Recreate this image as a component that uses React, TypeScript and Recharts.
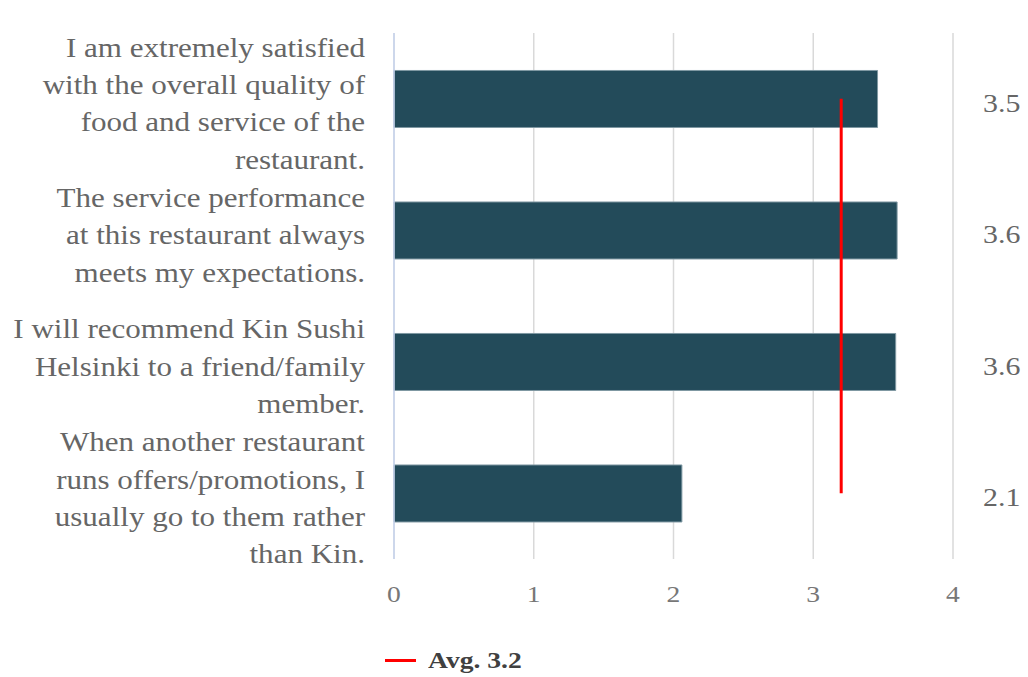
import { Bar, CartesianGrid, ComposedChart, Legend, Line, XAxis, YAxis } from 'recharts';

// Survey statements (pre-wrapped the way the source chart breaks them)
const statementLines: string[][] = [
  ['I am extremely satisfied', 'with the overall quality of', 'food and service of the', 'restaurant.'],
  ['The service performance', 'at this restaurant always', 'meets my expectations.'],
  ['I will recommend Kin Sushi', 'Helsinki to a friend/family', 'member.'],
  ['When another restaurant', 'runs offers/promotions, I', 'usually go to them rather', 'than Kin.'],
];
const statements = statementLines.map((l) => l.join(' '));
const scores = [3.46, 3.6, 3.59, 2.06];
const scoreLabels = ['3.5', '3.6', '3.6', '2.1'];
const average = 3.2;
const xTicks = [0, 1, 2, 3, 4];

const data = statements.map((s, i) => ({
  statement: s,
  score: scores[i],
  label: scoreLabels[i],
  avg: average,
}));

const FONT = '"Liberation Serif", "Times New Roman", serif';
const TEXT = '#666666';
const LINE_H = 37.5;
const STRETCH = 1.15; // source text is rendered a little wide

function StatementTick({ x, y, payload }: any) {
  const idx = statements.indexOf(payload.value);
  const lines = statementLines[idx] ?? [payload.value];
  const first = -((lines.length - 1) / 2) * LINE_H;
  return (
    <g transform={`translate(${x},${y}) scale(${STRETCH},1)`}>
      <text x={0} y={0} textAnchor="end" fill={TEXT} fontFamily={FONT} fontSize={27}>
        {lines.map((ln, i) => (
          <tspan key={i} x={0} dy={i === 0 ? first + 14 : LINE_H}>
            {ln}
          </tspan>
        ))}
      </text>
    </g>
  );
}

function ScoreTick({ x, y, payload }: any) {
  return (
    <g transform={`translate(${x},${y}) scale(${STRETCH},1)`}>
      <text x={0} y={0} dy={13} textAnchor="start" fill={TEXT} fontFamily={FONT} fontSize={26}>
        {payload.value}
      </text>
    </g>
  );
}

function ValueTick({ x, y, payload }: any) {
  return (
    <g transform={`translate(${x},${y}) scale(${STRETCH},1)`}>
      <text x={0} y={0} dy={16} textAnchor="middle" fill="#777777" fontFamily={FONT} fontSize={24}>
        {payload.value}
      </text>
    </g>
  );
}

function AvgLegend() {
  return (
    <div style={{ display: 'flex', alignItems: 'center', fontFamily: FONT }}>
      <span style={{ display: 'inline-block', width: 31, height: 3, background: '#ff0000', marginRight: 12 }} />
      <span
        style={{
          fontWeight: 'bold',
          fontSize: 24,
          color: '#404040',
          display: 'inline-block',
          transform: `scaleX(${STRETCH})`,
          transformOrigin: 'left center',
        }}
      >
        Avg. {average}
      </span>
    </div>
  );
}

export default function App() {
  return (
    <div style={{ position: 'absolute', left: 0, top: 0, background: '#fff' }}>
      <ComposedChart
        width={1028}
        height={677}
        layout="vertical"
        data={data}
        margin={{ top: 33, right: 0, bottom: 0, left: 0 }}
        barCategoryGap="28.5%"
      >
        <CartesianGrid horizontal={false} stroke="#d9d9d9" strokeWidth={1.5} />
        <XAxis
          type="number"
          domain={[0, 4]}
          ticks={xTicks}
          axisLine={false}
          tickLine={false}
          tickSize={0}
          tickMargin={27}
          height={91}
          tick={<ValueTick />}
        />
        <YAxis
          yAxisId="left"
          type="category"
          dataKey="statement"
          width={394}
          tickLine={false}
          tickSize={0}
          tickMargin={29}
          axisLine={{ stroke: '#c6d3ee', strokeWidth: 1.5 }}
          tick={<StatementTick />}
          interval={0}
        />
        <YAxis
          yAxisId="right"
          orientation="right"
          type="category"
          dataKey="label"
          width={75}
          axisLine={false}
          tickLine={false}
          tickSize={0}
          tickMargin={30}
          interval={0}
          tick={<ScoreTick />}
        />
        <Legend
          verticalAlign="bottom"
          content={<AvgLegend />}
          wrapperStyle={{ left: 385, bottom: 3, width: 200 }}
        />
        <Bar
          yAxisId="left"
          dataKey="score"
          fill="#234b5a"
          stroke="#7f98a2"
          strokeWidth={1}
          legendType="none"
          isAnimationActive={false}
        />
        <Line
          yAxisId="left"
          dataKey="avg"
          stroke="#ff0000"
          strokeWidth={3}
          dot={false}
          activeDot={false}
          isAnimationActive={false}
        />
      </ComposedChart>
    </div>
  );
}
